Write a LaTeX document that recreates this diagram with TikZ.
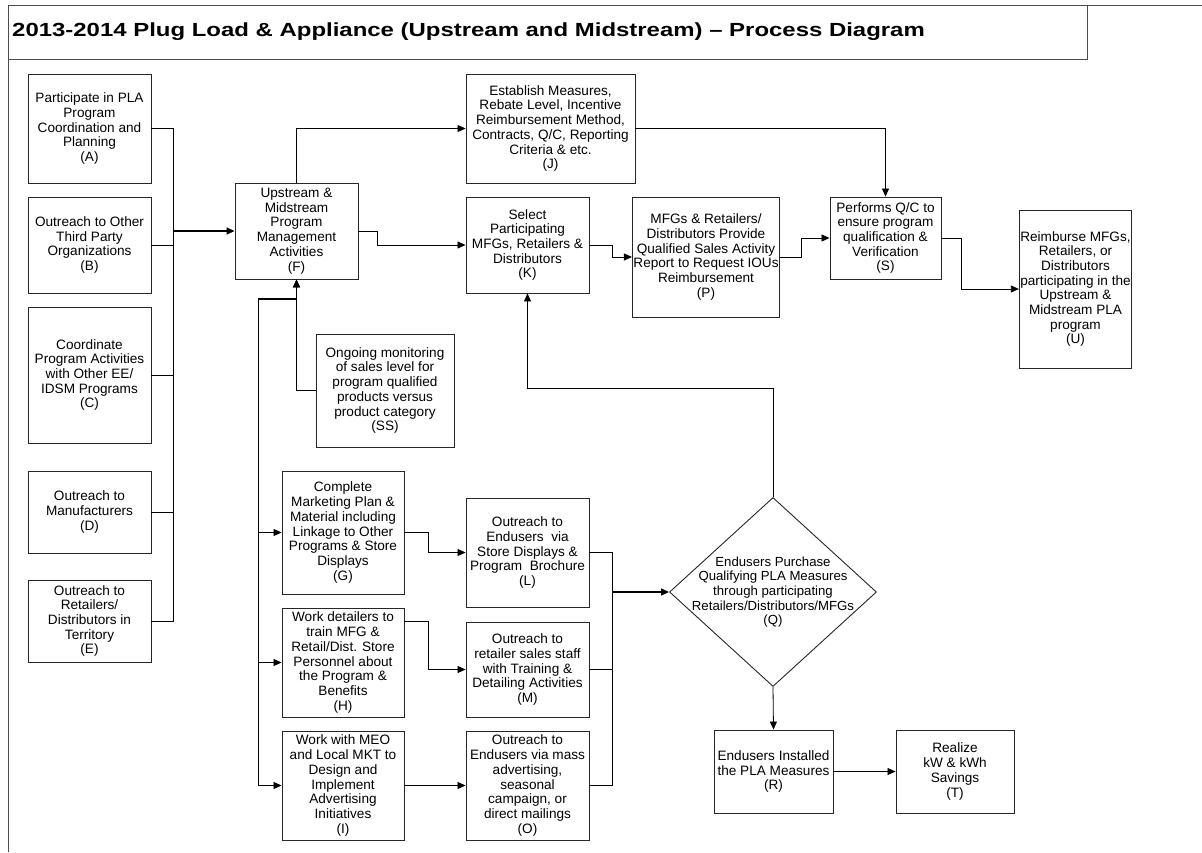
\documentclass[tikz,border=0pt]{standalone}
\usepackage{fontspec}
\setmainfont{Liberation Sans}
\usetikzlibrary{arrows.meta,shapes.geometric}

\begin{document}
\begin{tikzpicture}[x=1pt,y=-1pt]

	\tikzset{box/.style = {shape=rectangle,draw=black!85,line width=0.9pt,inner sep=1pt,align=center,font=\fontsize{13.6}{14.7}\selectfont}}
	\tikzset{edge/.style = {-{Triangle[length=8pt,width=7pt]},line width=0.8pt}}
	\tikzset{bus/.style = {edge,line width=1.5pt}}

	\useasboundingbox (0,0) rectangle (1202,852);

	\draw[black!70,line width=1pt] (8,852) -- (8,5) -- (1202,5);
	\draw[black!70,line width=1pt] (8,59) -- (1087,59) -- (1087,5);
	\node[anchor=west,inner sep=0pt,font=\bfseries\fontsize{19}{22}\selectfont] (title) at (12,32)
		{\scalebox{1.26}[1]{2013-2014 Plug Load \& Appliance (Upstream and Midstream) -- Process Diagram}};

	\node[box,minimum width=123,minimum height=109] (A) at (89.5,128.5) {Participate in PLA\\Program\\Coordination and\\Planning\\(A)};
	\node[box,minimum width=123,minimum height=96] (B) at (89.5,245) {Outreach to Other\\Third Party\\Organizations\\(B)};
	\node[box,minimum width=123,minimum height=136] (C) at (89.5,375) {Coordinate\\Program Activities\\with Other EE/\\IDSM Programs\\(C)};
	\node[box,minimum width=123,minimum height=82] (D) at (89.5,512) {Outreach to\\Manufacturers\\(D)};
	\node[box,minimum width=123,minimum height=82] (E) at (89.5,621) {Outreach to\\Retailers/\\Distributors in\\Territory\\(E)};

	\node[box,minimum width=123,minimum height=96] (F) at (296.5,231) {Upstream \&\\Midstream\\Program\\Management\\Activities\\(F)};
	\node[box,minimum width=138,minimum height=113] (SS) at (385,390.5) {Ongoing monitoring\\of sales level for\\program qualified\\products versus\\product category\\(SS)};

	\node[box,minimum width=169,minimum height=109] (J) at (550.5,128.5) {Establish Measures,\\Rebate Level, Incentive\\Reimbursement Method,\\Contracts, Q/C, Reporting\\Criteria \& etc.\\(J)};
	\node[box,minimum width=123,minimum height=96] (K) at (527.5,245) {Select\\Participating\\MFGs, Retailers \&\\Distributors\\(K)};
	\node[box,minimum width=138,minimum height=120] (P) at (706,257) {MFGs \& Retailers/\\Distributors Provide\\Qualified Sales Activity\\Report to Request IOUs\\Reimbursement\\(P)};
	\node[box,minimum width=111,minimum height=82] (S) at (885.5,238) {Performs Q/C to\\ensure program\\qualification \&\\Verification\\(S)};
	\node[box,minimum width=111,minimum height=158] (U) at (1075.5,289) {Reimburse MFGs,\\Retailers, or\\Distributors\\participating in the\\Upstream \&\\Midstream PLA\\program\\(U)};

	\node[box,minimum width=122,minimum height=123] (G) at (343,532.5) {Complete\\Marketing Plan \&\\Material including\\Linkage to Other\\Programs \& Store\\Displays\\(G)};
	\node[box,minimum width=122,minimum height=109] (H) at (343,662.5) {Work detailers to\\train MFG \&\\Retail/Dist. Store\\Personnel about\\the Program \&\\Benefits\\(H)};
	\node[box,minimum width=122,minimum height=109] (I) at (343,785.5) {Work with MEO\\and Local MKT to\\Design and\\Implement\\Advertising\\Initiatives\\(I)};

	\node[box,minimum width=123,minimum height=109] (L) at (527.5,552.5) {Outreach to\\Endusers\ \ via\\Store Displays \&\\Program\ \ Brochure\\(L)};
	\node[box,minimum width=123,minimum height=95] (M) at (527.5,669.5) {Outreach to\\retailer sales staff\\with Training \&\\Detailing Activities\\(M)};
	\node[box,minimum width=123,minimum height=109] (O) at (527.5,785.5) {Outreach to\\Endusers via mass\\advertising,\\seasonal\\campaign, or\\direct mailings\\(O)};

	\node[diamond,draw=black!85,line width=0.9pt,inner sep=0pt,minimum width=207,minimum height=189] (Q) at (773,592) {};
	\node[align=center,inner sep=0pt,font=\fontsize{13.2}{14.7}\selectfont] (Qtext) at (773,592) {Endusers Purchase\\Qualifying PLA Measures\\through participating\\Retailers/Distributors/MFGs\\(Q)};

	\node[box,minimum width=119,minimum height=83] (R) at (773.5,771.5) {Endusers Installed\\the PLA Measures\\(R)};
	\node[box,minimum width=118,minimum height=83] (T) at (955,771.5) {Realize\\kW \& kWh\\Savings\\(T)};

	\coordinate (busA) at (173,231);
	\coordinate (busF) at (258,299);
	\coordinate (busQ) at (612,592);

	\draw[line width=0.8pt] (A.east) -| (busA);
	\draw[line width=0.8pt] (E.east) -| (busA);
	\draw[line width=0.8pt] (B.east) -- (B.east -| busA);
	\draw[line width=0.8pt] (C.east) -- (C.east -| busA);
	\draw[line width=0.8pt] (D.east) -- (D.east -| busA);
	\draw[bus] (busA) -- (F.west);

	\draw[edge] (F.north) |- (J.west);
	\draw[edge] (F.east) -- ++(19,0) |- (K.west);
	\draw[edge] (K.east) -- ++(23,0) |- (P.west);
	\draw[edge] (P.east) -- ++(21,0) |- (S.west);
	\draw[edge] (J.east) -| (S.north);
	\draw[edge] (S.east) -- ++(20,0) |- (U.west);

	\draw[edge] (SS.west) -| (F.south);
	\draw[bus] (busF) -| (F.south);
	\draw[edge] (busF) |- (G.west);
	\draw[edge] (busF) |- (H.west);
	\draw[edge] (busF) |- (I.west);

	\draw[edge] (G.east) -- ++(24,0) |- (L.west);
	\draw[edge] ([yshift=-14pt]H.north east) -- ++(24,0) |- (M.west);
	\draw[edge] (I.east) -- (O.west);

	\draw[line width=0.8pt] (L.east) -| (busQ);
	\draw[line width=0.8pt] (O.east) -| (busQ);
	\draw[line width=0.8pt] (M.east) -- (M.east -| busQ);
	\draw[bus] (busQ) -- (Q.west);

	\draw[edge] (Q.north) -- ++(0,-109) -| (K.south);
	\draw[edge] (Q.south) -- (R.north);
	\draw[edge] (R.east) -- (T.west);

\end{tikzpicture}
\end{document}
